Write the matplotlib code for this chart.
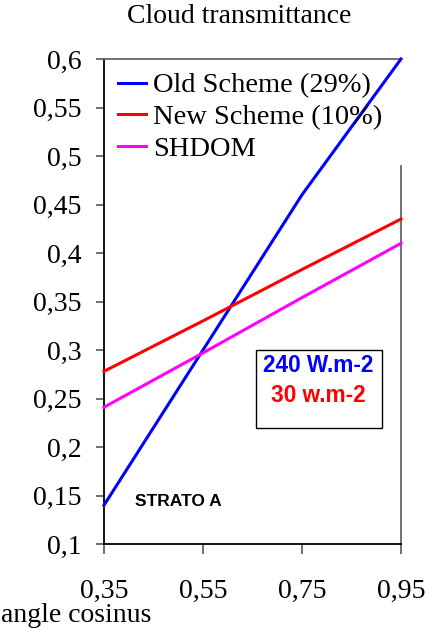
import matplotlib
matplotlib.use("Agg")
import matplotlib.pyplot as plt
from matplotlib.patches import Rectangle

# Cloud transmittance versus solar zenith angle cosine
mu = [0.35, 0.55, 0.75, 0.95]
old_scheme = [0.14, 0.30, 0.46, 0.60]
new_scheme = [0.278, 0.330, 0.383, 0.435]
shdom = [0.241, 0.297, 0.354, 0.410]

series_labels = ["Old Scheme (29%)", "New Scheme (10%)", "SHDOM"]
y_ticks = [0.1, 0.15, 0.2, 0.25, 0.3, 0.35, 0.4, 0.45, 0.5, 0.55, 0.6]
y_tick_labels = ["0,1", "0,15", "0,2", "0,25", "0,3", "0,35", "0,4", "0,45", "0,5", "0,55", "0,6"]
x_ticks = [0.35, 0.55, 0.75, 0.95]
x_tick_labels = ["0,35", "0,55", "0,75", "0,95"]

serif = "Liberation Serif"
sans = "Liberation Sans"

fig = plt.figure(figsize=(4.27, 6.29), dpi=100)
ax = fig.add_axes([104 / 427, 85 / 629, 297 / 427, 485 / 629])

lw = 2.2
ax.plot(mu, old_scheme, color="#0000ff", lw=lw, label=series_labels[0], zorder=4, clip_on=False)
ax.plot(mu, new_scheme, color="#ff0000", lw=lw, label=series_labels[1], zorder=4, clip_on=False)
ax.plot(mu, shdom, color="#ff00ff", lw=lw, label=series_labels[2], zorder=4, clip_on=False)

ax.set_xlim(0.35, 0.95)
ax.set_ylim(0.1, 0.6)
ax.set_xticks(x_ticks)
ax.set_xticklabels(x_tick_labels, fontfamily=serif, fontsize=20)
ax.set_yticks(y_ticks)
ax.set_yticklabels(y_tick_labels, fontfamily=serif, fontsize=20)
ax.tick_params(axis="y", direction="out", length=6, width=1.2, pad=10, color="#555555")
ax.tick_params(axis="x", direction="out", length=7, width=1.2, pad=18, color="#555555")

for side in ("left", "bottom"):
    ax.spines[side].set_color("black")
    ax.spines[side].set_linewidth(1.3)
for side in ("top", "right"):
    ax.spines[side].set_color("#666666")
    ax.spines[side].set_linewidth(1.3)
ax.spines["right"].set_bounds(0.1, 0.49)

ax.set_title("Cloud transmittance", fontfamily=serif, fontsize=20, pad=26, x=0.455)
fig.text(1 / 427, 1 - 622 / 629, "angle cosinus", fontfamily=serif, fontsize=20,
         ha="left", va="baseline")

leg = ax.legend(loc="upper left", bbox_to_anchor=(0.047, 0.972), frameon=False,
                prop={"family": serif, "size": 20.5}, handlelength=1.0,
                handletextpad=0.22, labelspacing=0.2, borderpad=0, borderaxespad=0)

# Boxed flux annotation
ax.add_patch(Rectangle(((256 - 104) / 297, (544 - 428) / 485), 126 / 297, 78 / 485,
                       transform=ax.transAxes, fill=False, edgecolor="black", lw=1.0, zorder=5))
ax.text((318 - 104) / 297, (544 - 365) / 485, "240 W.m-2", transform=ax.transAxes,
        fontfamily=sans, fontweight="bold", fontsize=16.3, color="#0000ff", ha="center", va="center")
ax.text((318 - 104) / 297, (544 - 395) / 485, "30 w.m-2", transform=ax.transAxes,
        fontfamily=sans, fontweight="bold", fontsize=16.3, color="#ff0000", ha="center", va="center")
ax.text((135 - 104) / 297, (544 - 501) / 485, "STRATO A", transform=ax.transAxes,
        fontfamily=sans, fontweight="bold", fontsize=12.5, color="black", ha="left", va="center")

fig.savefig("out.png", dpi=100)
